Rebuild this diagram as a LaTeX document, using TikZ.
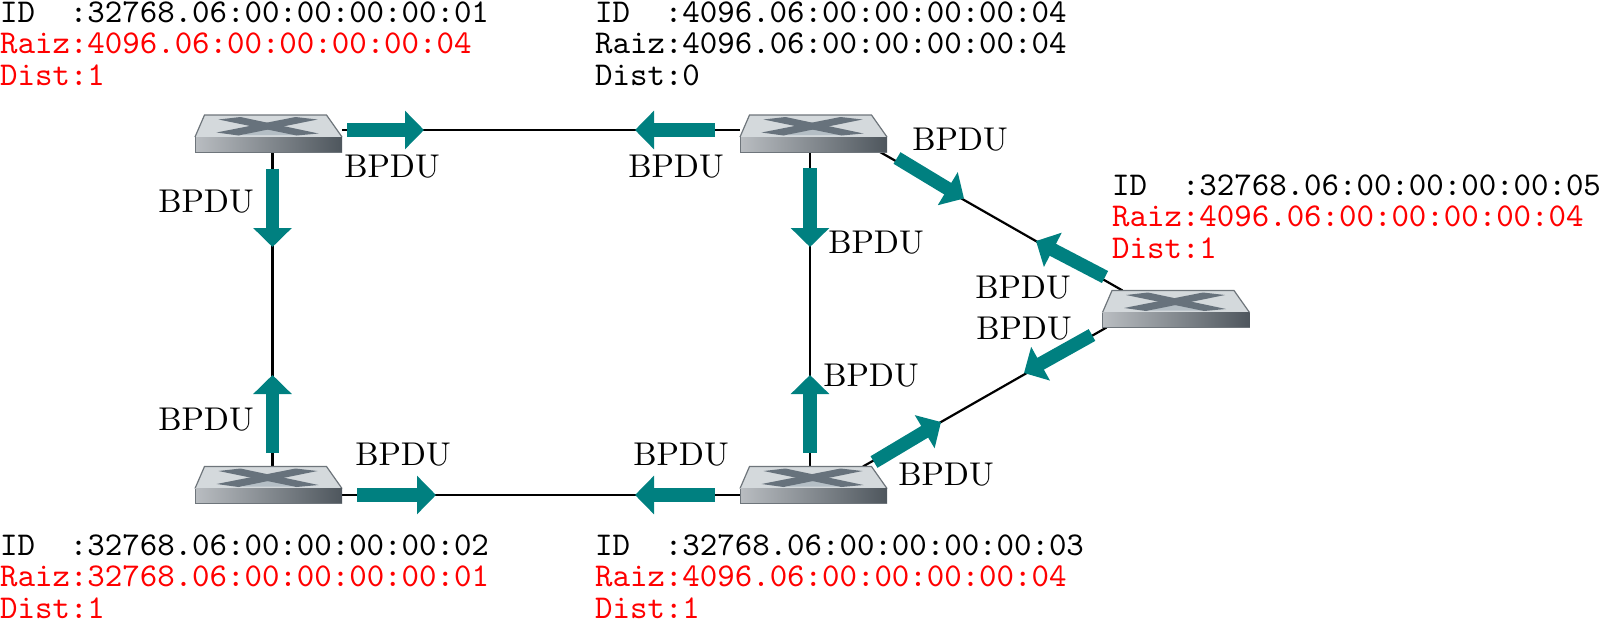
\documentclass[tikz,border=0pt]{standalone}
\usetikzlibrary{arrows.meta,calc}
\definecolor{flow}{HTML}{008080}
\definecolor{swtop}{HTML}{D4D9DC}
\definecolor{swmark}{HTML}{67727C}
\definecolor{swmid}{HTML}{B4BEC5}
\definecolor{swedge}{HTML}{6E757B}
\definecolor{swleft}{HTML}{B9BDC1}
\definecolor{swmidf}{HTML}{8F969C}
\definecolor{swright}{HTML}{4E565D}
\DeclareFontFamily{OT1}{myrm}{}
\DeclareFontShape{OT1}{myrm}{m}{n}{<-> cmr10}{}
\DeclareFontFamily{OT1}{mytt}{\hyphenchar\font=-1 }
\DeclareFontShape{OT1}{mytt}{m}{n}{<-> cmtt10}{}
\tikzset{
  link/.style={line width=2.2pt,black},
  flowarrow/.style={flow,line width=13.5pt,-{Triangle[length=19pt,width=37.5pt]}},
  swnode/.style={minimum width=147pt,minimum height=37pt,inner sep=0pt,outer sep=0pt},
  lab/.style={font=\fontencoding{OT1}\fontfamily{myrm}\fontsize{32.9}{36}\selectfont,inner sep=0pt},
  info/.style={font=\fontencoding{OT1}\fontfamily{mytt}\fontsize{33.25}{31.8}\selectfont,inner sep=0pt,anchor=north west,align=left}
}
\newcommand{\swdraw}[1]{%
  \begin{scope}[shift={(#1)}]
    \fill[swtop] (-64,-18.5) -- (58,-18.5) -- (73.5,3.5) -- (-73.5,3.5) -- cycle;
    \draw[swedge,line width=1.2pt] (-73.5,3.5) -- (-64,-18.5) -- (58,-18.5) -- (73.5,3.5);
    \fill[swmid] (-26,1.5) -- (0,-7) -- (26,1.5) -- cycle;
    \fill[swmark] (-50,-14) -- (-28,-16.5) -- (50,0) -- (28,2) -- cycle;
    \fill[swmark] (27,-16.5) -- (49,-14) -- (-30,2) -- (-52,-1) -- cycle;
    \shade[left color=swleft,middle color=swmidf,right color=swright] (-73.5,3.5) rectangle (73.5,18.5);
    \draw[swedge,line width=1pt] (-73.5,18.5) -- (73.5,18.5);
    \draw[swedge,line width=.8pt] (-73.5,3.5) -- (-73.5,18.5);
  \end{scope}}
\begin{document}
\begin{tikzpicture}[x=1pt,y=-1pt]
\useasboundingbox (0,0) rectangle (1601,619);
\node[swnode] (s1) at (268.5,133.5) {};
\node[swnode] (s2) at (268.5,485) {};
\node[swnode] (s3) at (813.5,133.5) {};
\node[swnode] (s4) at (813.5,485) {};
\node[swnode] (s5) at (1176,309) {};
\draw[link] ([yshift=3.5pt]s1.east) -- ([yshift=3.5pt]s3.west);
\draw[link] ([yshift=-10pt]s2.east) -- ([yshift=-10pt]s4.west);
\draw[link] ([xshift=4pt]s1.south) -- ([xshift=4pt]s2.north);
\draw[link] ([xshift=-3.5pt]s3.south) -- ([xshift=-3.5pt]s4.north);
\draw[link] ([xshift=-7pt]s3.south east) -- ([xshift=20pt]s5.north west);
\draw[link] ([xshift=-24pt]s4.north east) -- ([xshift=4pt]s5.south west);
\swdraw{s1}\swdraw{s2}\swdraw{s3}\swdraw{s4}\swdraw{s5}
\draw[flowarrow] (347,130) -- (424,130);
\draw[flowarrow] (715,130) -- (635,130);
\draw[flowarrow] (272.5,168.5) -- (272.5,247);
\draw[flowarrow] (272.5,453) -- (272.5,375);
\draw[flowarrow] (357,495) -- (436,495);
\draw[flowarrow] (715,495) -- (635,495);
\draw[flowarrow] (810,168) -- (810,247);
\draw[flowarrow] (810,453) -- (810,375);
\draw[flowarrow] (897,158) -- (964,198.5);
\draw[flowarrow] (1105,277) -- (1036,241);
\draw[flowarrow] (1092,335) -- (1024,373);
\draw[flowarrow] (874,462) -- (941,422);
\node[lab] (l1) at (392,166) {BPDU};
\node[lab] (l2) at (676,166) {BPDU};
\node[lab] (l3) at (206,201) {BPDU};
\node[lab] (l4) at (206,419) {BPDU};
\node[lab] (l5) at (403,454) {BPDU};
\node[lab] (l6) at (681,454) {BPDU};
\node[lab] (l7) at (876,242) {BPDU};
\node[lab] (l8) at (871,375) {BPDU};
\node[lab] (l9) at (960,139) {BPDU};
\node[lab] (l10) at (1023,287) {BPDU};
\node[lab] (l11) at (1024,328) {BPDU};
\node[lab] (l12) at (946,474) {BPDU};
\node[info] (t1) at (0,1.5) {ID\ \ :32768.06:00:00:00:00:01\\\textcolor{red}{Raiz:4096.06:00:00:00:00:04}\\\textcolor{red}{Dist:1}};
\node[info] (t2) at (595,1.5) {ID\ \ :4096.06:00:00:00:00:04\\Raiz:4096.06:00:00:00:00:04\\Dist:0};
\node[info] (t3) at (1112,174.5) {ID\ \ :32768.06:00:00:00:00:05\\\textcolor{red}{Raiz:4096.06:00:00:00:00:04}\\\textcolor{red}{Dist:1}};
\node[info] (t4) at (0,534.5) {ID\ \ :32768.06:00:00:00:00:02\\\textcolor{red}{Raiz:32768.06:00:00:00:00:01}\\\textcolor{red}{Dist:1}};
\node[info] (t5) at (595,534.5) {ID\ \ :32768.06:00:00:00:00:03\\\textcolor{red}{Raiz:4096.06:00:00:00:00:04}\\\textcolor{red}{Dist:1}};
\end{tikzpicture}
\end{document}
